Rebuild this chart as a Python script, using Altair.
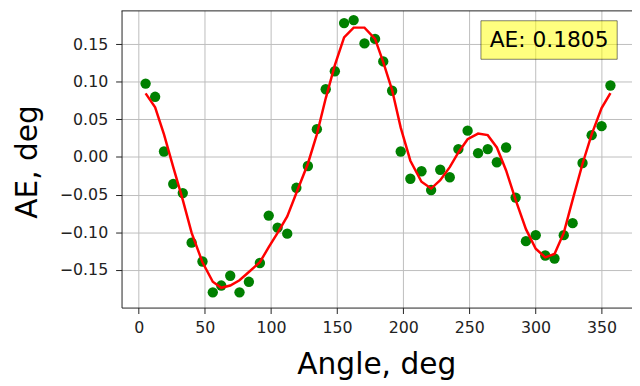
import altair as alt
import pandas as pd

angle = [5.2, 12.4, 19.1, 26.1, 33.3, 40.0, 48.2, 56.0, 62.4, 69.2, 76.2, 83.3, 91.6, 98.3, 105.0,
         112.3, 119.2, 127.9, 134.7, 141.4, 148.3, 155.3, 162.5, 170.7, 178.7, 184.9, 191.6, 198.1,
         205.4, 213.8, 221.1, 228.0, 235.2, 241.7, 248.7, 256.6, 263.9, 270.8, 277.8, 285.0, 292.8,
         300.2, 307.4, 314.4, 321.4, 328.1, 335.6, 342.5, 350.0, 356.7]
ae_meas = [0.0976, 0.080, 0.0073, -0.036, -0.048, -0.114, -0.139, -0.180, -0.171, -0.158, -0.180,
           -0.166, -0.141, -0.078, -0.094, -0.102, -0.041, -0.012, 0.037, 0.090, 0.114, 0.178, 0.182,
           0.151, 0.157, 0.127, 0.088, 0.0073, -0.029, -0.019, -0.044, -0.017, -0.027, 0.0105, 0.035,
           0.005, 0.0105, -0.007, 0.0126, -0.054, -0.112, -0.104, -0.131, -0.135, -0.104, -0.088,
           -0.008, 0.029, 0.041, 0.095]
ae_fit = [0.0846, 0.066, 0.030, -0.0136, -0.057, -0.101, -0.140, -0.166, -0.174, -0.171, -0.164,
          -0.153, -0.140, -0.120, -0.101, -0.079, -0.048, -0.009, 0.030, 0.078, 0.122, 0.159, 0.172,
          0.172, 0.157, 0.126, 0.089, 0.039, -0.005, -0.033, -0.042, -0.031, -0.0136, 0.006, 0.0236,
          0.031, 0.029, 0.0126, -0.018, -0.057, -0.096, -0.122, -0.1335, -0.129, -0.101, -0.057,
          -0.009, 0.030, 0.065, 0.085]
x_ticks = [0, 50, 100, 150, 200, 250, 300, 350]
y_ticks = [-0.15, -0.10, -0.05, 0.0, 0.05, 0.10, 0.15]
annotation = "AE: 0.1805"

df = pd.DataFrame({"angle": angle, "meas": ae_meas, "fit": ae_fit})

W, H = 517, 301
FONT = "DejaVu Sans"

xscale = alt.Scale(domain=[-13, 373], nice=False, zero=False)
yscale = alt.Scale(domain=[-0.2003, 0.1949], nice=False, zero=False)

xaxis = alt.Axis(values=x_ticks, title="Angle, deg", labelFontSize=16, titleFontSize=30,
                 titleFontWeight="normal", tickSize=6, labelPadding=6,
                 titleX=258, titleY=67, titleBaseline="alphabetic", titleAnchor="middle")
yaxis = alt.Axis(values=y_ticks, format=".2f", title="AE, deg", labelFontSize=16, titleFontSize=30,
                 titleFontWeight="normal", tickSize=6, labelPadding=8,
                 titleX=-95, titleY=153, titleBaseline="middle", titleAngle=-90)

base = alt.Chart(df)

points = base.mark_circle(color="#008000", size=110, opacity=1).encode(
    x=alt.X("angle:Q", scale=xscale, axis=xaxis),
    y=alt.Y("meas:Q", scale=yscale, axis=yaxis),
)

line = base.mark_line(color="#ff0000", strokeWidth=2.5).encode(
    x=alt.X("angle:Q", scale=xscale),
    y=alt.Y("fit:Q", scale=yscale),
)

top_spine = alt.Chart(pd.DataFrame({"a": [0]})).mark_rule(color="#222222", strokeWidth=1).encode(
    x=alt.value(0), x2=alt.value(W), y=alt.value(0.5)
)

box = alt.Chart(pd.DataFrame({"t": [annotation]})).mark_rect(
    fill="yellow", fillOpacity=0.5, stroke="black", strokeOpacity=0.5, strokeWidth=1
).encode(x=alt.value(364), x2=alt.value(502), y=alt.value(10.5), y2=alt.value(49.5))

label = alt.Chart(pd.DataFrame({"t": [annotation]})).mark_text(
    font=FONT, fontSize=22, color="black", align="center", baseline="middle"
).encode(text="t:N", x=alt.value(433), y=alt.value(30))

chart = alt.layer(points, line, top_spine, box, label).properties(
    width=W, height=H,
    autosize=alt.AutoSizeParams(type="none"),
    padding={"left": 115, "top": 0, "right": 0, "bottom": 77},
).configure_view(stroke=None).configure_axis(
    labelFont=FONT, titleFont=FONT, labelColor="#222222", titleColor="#000000",
    gridColor="#bdbdbd", gridWidth=1, domainColor="#222222", domainWidth=1,
    tickColor="#222222", tickWidth=1,
)

chart.save("out.html", embed_options={"renderer": "svg", "actions": False})
